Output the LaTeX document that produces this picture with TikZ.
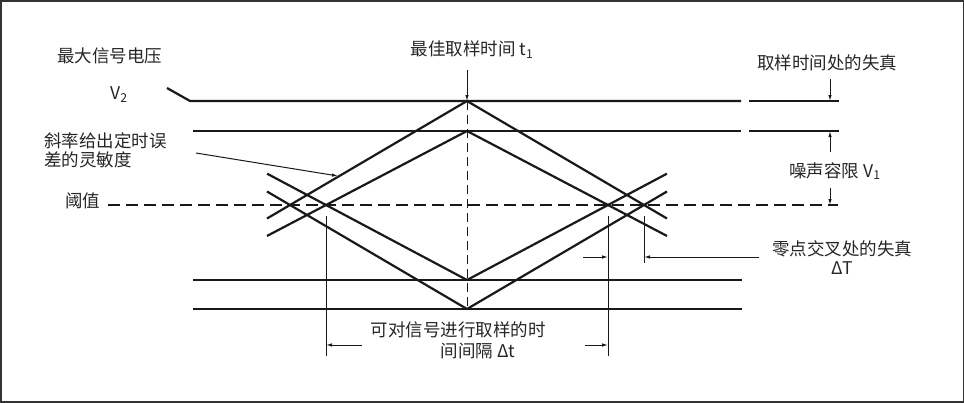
\documentclass[tikz,border=0pt]{standalone}
\usepackage{fontspec}
\setmainfont{Noto Sans CJK SC}
\usetikzlibrary{arrows.meta,calc}
\begin{document}
\begin{tikzpicture}[x=1pt,y=-1pt,
  heavy/.style={line width=2.2pt,black!90},
  light/.style={line width=1pt,black!90},
  dimarrow/.style={line width=1pt,black!90,-{Latex[length=6pt,width=3.5pt]}},
  lbl/.style={font=\fontsize{17.5}{19}\selectfont, inner sep=0pt, text=black!85}]
\useasboundingbox (0,0) rectangle (964,402);
\draw[line width=3pt, black!80] (0,0) rectangle (964,402);

% diamond apexes and threshold crossings
\coordinate (OT) at (467,101);
\coordinate (OB) at (467,309);
\coordinate (IT) at (467,131);
\coordinate (IB) at (467,280);
\coordinate (OL) at (290,205);
\coordinate (OR) at (644,205);
\coordinate (IL) at (326,205);
\coordinate (IR) at (608,205);

% horizontal levels
\coordinate (v2s) at (167,88);
\coordinate (v2a) at (190,101);
\coordinate (v2b) at (741,101);
\coordinate (v2c) at (749,101);
\coordinate (v2d) at (839,101);
\coordinate (h2a) at (193,131);
\coordinate (h2b) at (741,131);
\coordinate (h2c) at (749,131);
\coordinate (h2d) at (839,131);
\coordinate (h3a) at (193,280);
\coordinate (h3b) at (742,280);
\coordinate (h4a) at (193,309);
\coordinate (h4b) at (742,309);
\coordinate (thA) at (108,205);
\coordinate (thB) at (838,205);

\draw[heavy] (v2s) -- (v2a) -- (v2b);
\draw[heavy] (v2c) -- (v2d);
\draw[heavy] (h2a) -- (h2b);
\draw[heavy] (h2c) -- (h2d);
\draw[heavy] (h3a) -- (h3b);
\draw[heavy] (h4a) -- (h4b);
\draw[line width=1.5pt, black!90, dash pattern=on 12pt off 6pt] (thA) -- (thB);

% eye lines
\draw[heavy] ($(OT)!1.13!(OL)$) -- (OT) -- ($(OT)!1.13!(OR)$);
\draw[heavy] ($(OB)!1.13!(OL)$) -- (OB) -- ($(OB)!1.13!(OR)$);
\draw[heavy] ($(IT)!1.418!(IL)$) -- (IT) -- ($(IT)!1.418!(IR)$);
\draw[heavy] ($(IB)!1.418!(IL)$) -- (IB) -- ($(IB)!1.418!(IR)$);

% centre sampling line
\coordinate (ctop) at (467,70);
\draw[dimarrow] (ctop) -- (OT);
\draw[light, dash pattern=on 9pt off 5pt] (OT) -- (OB);

% delta t / delta T extension lines
\coordinate (dl1) at (326,216); \coordinate (dl2) at (326,356);
\coordinate (dr1) at (608,216); \coordinate (dr2) at (608,356);
\coordinate (dT1) at (644,216); \coordinate (dT2) at (644,263);
\draw[light] (dl1) -- (dl2);
\draw[light] (dr1) -- (dr2);
\draw[light] (dT1) -- (dT2);

\coordinate (a1s) at (362,345); \coordinate (a1e) at (326,345);
\coordinate (a2s) at (585,345); \coordinate (a2e) at (608,345);
\coordinate (a3s) at (583,257); \coordinate (a3e) at (608,257);
\coordinate (a4s) at (759,257); \coordinate (a4e) at (644,257);
\draw[dimarrow] (a1s) -- (a1e);
\draw[dimarrow] (a2s) -- (a2e);
\draw[dimarrow] (a3s) -- (a3e);
\draw[dimarrow] (a4s) -- (a4e);

% right side dimension arrows
\coordinate (r1s) at (830,79);
\coordinate (r2s) at (830,152);
\coordinate (r3s) at (830,188);
\draw[dimarrow] (r1s) -- (v2d -| r1s);
\draw[dimarrow] (r2s) -- (h2d -| r2s);
\draw[dimarrow] (r3s) -- (thB -| r3s);

% slope pointer
\coordinate (sp1) at (196,153);
\coordinate (sp2) at (338,176);
\draw[dimarrow] (sp1) -- (sp2);

% labels
\node[lbl, anchor=west] (maxv) at (57,56) {最大信号电压};
\node[lbl, anchor=west] (v2) at (110,95) {V\textsubscript{2}};
\node[lbl, anchor=north west, align=left] (slope) at (44,132) {斜率给出定时误\\差的灵敏度};
\node[lbl, anchor=west] (thr) at (65,201) {阈值};
\node[lbl] (best) at (472,50) {最佳取样时间 t\textsubscript{1}};
\node[lbl] (dist) at (827,63) {取样时间处的失真};
\node[lbl] (noise) at (835,171) {噪声容限 V\textsubscript{1}};
\node[lbl, align=center] (zero) at (842,258) {零点交叉处的失真\\ΔT};
\node[lbl] (dt1) at (458,330) {可对信号进行取样的时};
\node[lbl] (dt2) at (478,351) {间间隔 Δt};
\end{tikzpicture}
\end{document}
